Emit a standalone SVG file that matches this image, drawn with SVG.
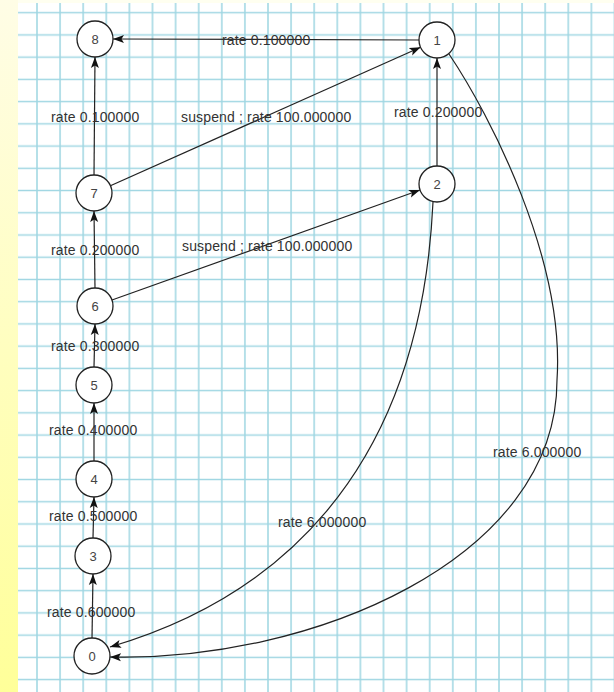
<svg xmlns="http://www.w3.org/2000/svg" width="614" height="692" viewBox="0 0 614 692">
<defs>
<linearGradient id="side" x1="0" y1="0" x2="0" y2="1">
<stop offset="0" stop-color="#fffde6"/>
<stop offset="1" stop-color="#ffff99"/>
</linearGradient>
<pattern id="grid" patternUnits="userSpaceOnUse" x="25.45" y="1.585" width="23.1" height="22.23">
<path d="M11.55,0 V22.23 M0,11.115 H23.1" stroke="#9fd6e2" stroke-width="1.5" fill="none"/>
</pattern>
<marker id="arr" markerUnits="userSpaceOnUse" markerWidth="12" markerHeight="10" refX="11" refY="4" orient="auto" viewBox="0 0 12 8">
<path d="M0,0 L11,4 L0,8 L2.5,4 z" fill="#111"/>
</marker>
<style>
.node circle{fill:#fff;stroke:#222;stroke-width:1.3}
.node text{font-family:"Liberation Sans",Arial,sans-serif;font-size:13px;fill:#444;text-anchor:middle}
.edge{fill:none;stroke:#222;stroke-width:1.2;marker-end:url(#arr)}
.lbl{font-family:"Liberation Sans",Arial,sans-serif;font-size:14px;fill:#333;letter-spacing:0.15px}
</style>
</defs>
<rect x="0" y="0" width="614" height="692" fill="#fffff0"/>
<rect x="0" y="0" width="18" height="692" fill="url(#side)"/>
<rect x="18" y="3" width="596" height="689" fill="#fff"/>
<rect x="18" y="3" width="596" height="689" fill="url(#grid)"/>

<g id="connectors">
<path class="edge" d="M419,40 L113,39"/>
<path class="edge" d="M94,175 L95,57"/>
<path class="edge" d="M110.4,185.7 L420.6,47.3"/>
<path class="edge" d="M437,166 L437,58"/>
<path class="edge" d="M95,288 L94,211"/>
<path class="edge" d="M112,300 L420,190"/>
<path class="edge" d="M94,367 L95,324"/>
<path class="edge" d="M94,461 L94,403"/>
<path class="edge" d="M93,538 L94,497"/>
<path class="edge" d="M92,638 L93,574"/>
<path class="edge" d="M433,202 C420,480 270,600 110,647"/>
<path class="edge" d="M449,54 C490,115 565,260 557,380 C557,560 310,662 110,657"/>
<text class="lbl" x="222" y="45">rate 0.100000</text>
<text class="lbl" x="51" y="122">rate 0.100000</text>
<text class="lbl" x="181" y="121.5">suspend ; rate 100.000000</text>
<text class="lbl" x="394" y="117">rate 0.200000</text>
<text class="lbl" x="51" y="255">rate 0.200000</text>
<text class="lbl" x="182" y="251">suspend ; rate 100.000000</text>
<text class="lbl" x="51" y="351">rate 0.300000</text>
<text class="lbl" x="49" y="435">rate 0.400000</text>
<text class="lbl" x="49" y="521">rate 0.500000</text>
<text class="lbl" x="47" y="617">rate 0.600000</text>
<text class="lbl" x="278" y="527">rate 6.000000</text>
<text class="lbl" x="493" y="457">rate 6.000000</text>
</g>

<g id="node8" class="node"><circle cx="95" cy="39" r="18"/><text x="95" y="44">8</text></g>
<g id="node1" class="node"><circle cx="437" cy="40" r="18"/><text x="437" y="45">1</text></g>
<g id="node7" class="node"><circle cx="94" cy="193" r="18"/><text x="94" y="198">7</text></g>
<g id="node2" class="node"><circle cx="437" cy="184" r="18"/><text x="437" y="189">2</text></g>
<g id="node6" class="node"><circle cx="95" cy="306" r="18"/><text x="95" y="311">6</text></g>
<g id="node5" class="node"><circle cx="94" cy="385" r="18"/><text x="94" y="390">5</text></g>
<g id="node4" class="node"><circle cx="94" cy="479" r="18"/><text x="94" y="484">4</text></g>
<g id="node3" class="node"><circle cx="93" cy="556" r="18"/><text x="93" y="561">3</text></g>
<g id="node0" class="node"><circle cx="92" cy="656" r="18"/><text x="92" y="661">0</text></g>
</svg>
